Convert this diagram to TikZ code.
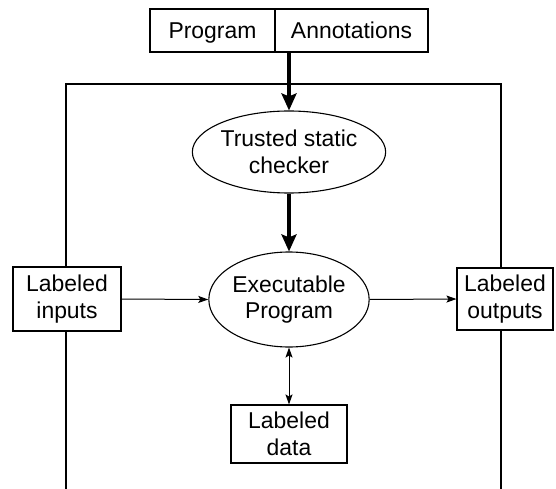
\documentclass[tikz,border=0pt]{standalone}
\usepackage{fontspec}
\setmainfont{Liberation Sans}
\usetikzlibrary{shapes.geometric,arrows.meta}

\newlength{\du}
\setlength{\du}{1bp}

\tikzset{
  cell/.style={draw, fill=white, line width=1.1\du, minimum height=43\du, inner sep=0pt, text height=16.5\du, text depth=0pt},
  labelbox/.style={draw, fill=white, line width=1.1\du, align=center, inner sep=0pt},
  blob/.style={ellipse, draw, fill=white, line width=1.1\du, align=center, inner sep=0pt},
  bigtip/.tip={Stealth[length=17bp, width=15bp, inset=3bp]},
  smalltip/.tip={Stealth[length=10bp, width=7bp, inset=2bp]},
  heavy/.style={line width=4\du, -bigtip},
  fineline/.style={line width=1\du, -smalltip},
  frame/.style={line width=2.8\du}
}

\begin{document}
\begin{tikzpicture}[font=\fontsize{23}{26.5}\selectfont]
\pgftransformxscale{1.000000}
\pgftransformyscale{-1.000000}
\useasboundingbox (0\du,0\du) rectangle (556\du,489\du);
% outer frame, open at the bottom
\draw[frame] (66\du,489\du)--(66\du,84\du)--(501\du,84\du)--(501\du,489\du);
% top pair of cells
\node[cell, minimum width=125\du] (prog) at (212.5\du,30.5\du){Program};
\node[cell, minimum width=153\du] (annot) at (351.5\du,30.5\du){Annotations};
\coordinate (feed) at (289\du,52\du);
% ellipses
\node[blob, minimum width=186\du, minimum height=82\du] (checker) at (289\du,152\du){Trusted static\\checker};
\node[blob, minimum width=148\du, minimum height=95\du] (exec) at (289\du,299.5\du){Executable\\Program};
% side boxes
\node[labelbox, minimum width=108\du, minimum height=64\du] (inputs) at (67\du,299\du){Labeled\\inputs};
\node[labelbox, minimum width=96\du, minimum height=62\du] (outputs) at (505\du,299\du){Labeled\\outputs};
\node[labelbox, minimum width=116\du, minimum height=58\du] (data) at (289\du,434\du){Labeled\\data};
% was here!!!
\draw[heavy] (feed)--(checker.north);
\draw[heavy] (checker.south)--(exec.north);
\draw[fineline] (inputs.east)--(exec.west);
\draw[fineline] (exec.east)--(outputs.west);
\draw[fineline, smalltip-smalltip] (exec.south)--(data.north);
\end{tikzpicture}
\end{document}
